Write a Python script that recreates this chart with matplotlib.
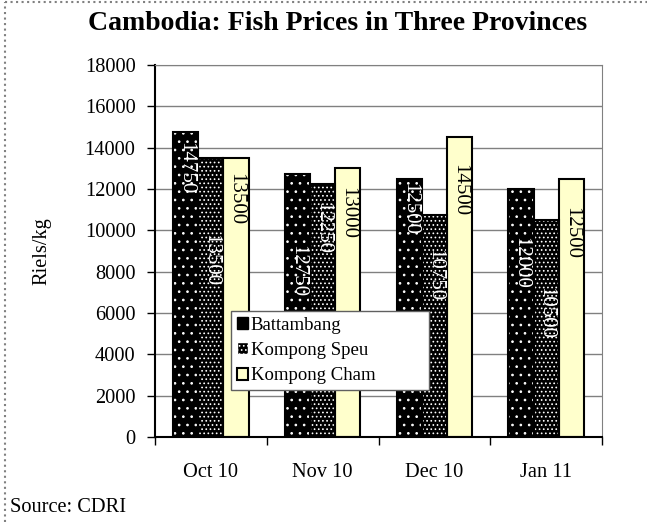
import matplotlib
matplotlib.use("Agg")
import matplotlib.pyplot as plt
import numpy as np
from matplotlib.lines import Line2D
from matplotlib.patches import Patch

plt.rcParams['font.family'] = ['Liberation Serif', 'DejaVu Serif']

months = ["Oct 10", "Nov 10", "Dec 10", "Jan 11"]
provinces = ["Battambang", "Kompong Speu", "Kompong Cham"]
battambang = [14750, 12750, 12500, 12000]
kompong_speu = [13500, 12250, 10750, 10500]
kompong_cham = [13500, 13000, 14500, 12500]
yticks = [0, 2000, 4000, 6000, 8000, 10000, 12000, 14000, 16000, 18000]

# where each value label sits (data units)
label_y = [
    [12990, 8030, 11030, 8440],
    [8560, 10110, 7840, 6020],
    [11510, 10860, 11950, 9850],
]

series = [battambang, kompong_speu, kompong_cham]
faces = ["black", "black", "#FFFFCC"]
hatches = ["..", "....", None]
txt_colors = ["white", "white", "black"]

fig = plt.figure(figsize=(6.47, 5.22), dpi=100)
ax = fig.add_axes([155/647, 1-437/522, (602-155)/647, (437-65)/522])

x = np.arange(len(months))
w = 0.225
plt.rcParams['hatch.linewidth'] = 0.7
for i, vals in enumerate(series):
    pos = x + (i - 1) * w
    if hatches[i]:
        ax.bar(pos, vals, w, color=faces[i], edgecolor="white", hatch=hatches[i],
               linewidth=0, zorder=2)
    else:
        ax.bar(pos, vals, w, color=faces[i], linewidth=0, zorder=2)
    ax.bar(pos, vals, w, fill=False, edgecolor="black", linewidth=1.5, zorder=3)
    for j, v in enumerate(vals):
        ax.text(pos[j], label_y[i][j], f"{v}", rotation=270, ha="center", va="center",
                color=txt_colors[i], fontsize=15, zorder=4)

ax.set_ylim(0, 18000)
ax.set_xlim(-0.5, 3.5)
ax.set_yticks(yticks)
ax.set_yticklabels([str(t) for t in yticks], fontsize=14.7)
ax.yaxis.grid(True, color="#808080", linewidth=1)
ax.set_axisbelow(True)
ax.set_xticks(x)
ax.set_xticklabels(months, fontsize=14.7)
ax.tick_params(axis="x", length=0, pad=19)
ax.set_xticks(np.arange(-0.5, 4, 1), minor=True)
ax.tick_params(axis="x", which="minor", length=6, direction="out", width=1)
ax.tick_params(axis="y", length=6, direction="out", width=1, pad=8)
ax.spines["left"].set_linewidth(1.5)
ax.spines["bottom"].set_linewidth(1.5)
ax.spines["right"].set_color("#808080")
ax.spines["top"].set_color("#808080")
ax.set_ylabel("Riels/kg", fontsize=14.7, labelpad=24)

handles = [Patch(facecolor="black", edgecolor="black"),
           Patch(facecolor="black", edgecolor="white", hatch="...."),
           Patch(facecolor="#FFFFCC", edgecolor="black", linewidth=1.5)]
leg = ax.legend(handles, provinces, loc="lower left",
                bbox_to_anchor=(231/647, 1-390/522, (429-231)/647, (390-309)/522),
                bbox_transform=fig.transFigure, mode="expand", fontsize=13.5, frameon=True,
                fancybox=False, framealpha=1, handlelength=0.6, handleheight=0.6,
                handletextpad=0.15, borderaxespad=0, borderpad=0.3, labelspacing=0.45)
leg.get_frame().set_edgecolor("#606060")
leg.get_frame().set_linewidth(1)
leg.set_zorder(5)

fig.text(0.5 * (90 + 586) / 647, 1 - 24/522, "Cambodia: Fish Prices in Three Provinces",
         ha="center", va="center", fontsize=20, fontweight="bold")
fig.text(10/647, 1 - 508/522, "Source: CDRI", ha="left", va="center", fontsize=14.7)

fig.add_artist(Line2D([5/647, 5/647], [0, 1-2/522], transform=fig.transFigure,
                      color="#808080", linestyle=":", linewidth=1.5))
fig.add_artist(Line2D([5/647, 1], [1-2/522, 1-2/522], transform=fig.transFigure,
                      color="#808080", linestyle=":", linewidth=1.5))

fig.savefig("out.png", dpi=100)
